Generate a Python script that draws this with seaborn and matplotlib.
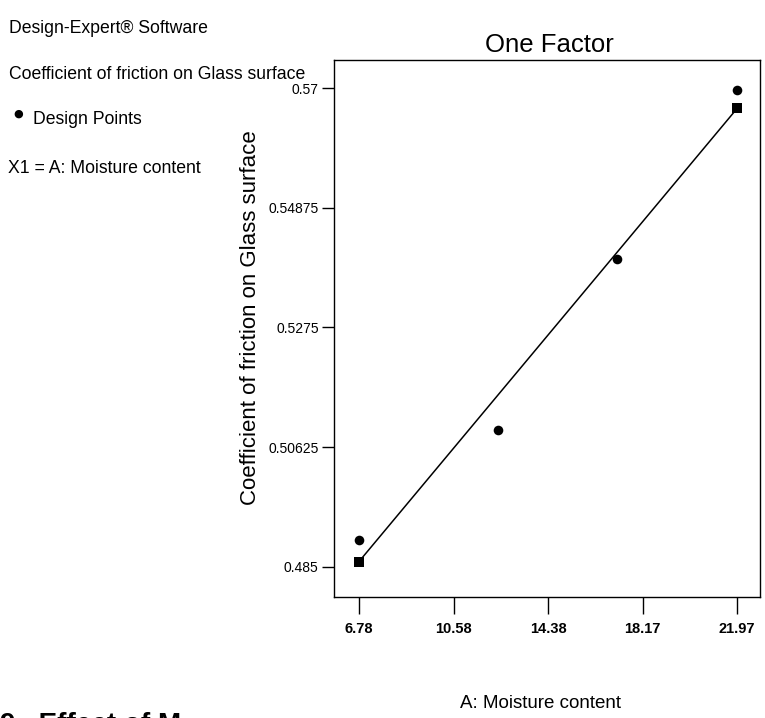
import matplotlib
matplotlib.use("Agg")
import matplotlib.pyplot as plt
import seaborn as sns
import pandas as pd

# ---- data ----
design_x = [6.78, 12.38, 17.14, 21.97]
design_y = [0.4898, 0.5093, 0.5396, 0.5696]
pred_x = [6.78, 21.97]
pred_y = [0.4859, 0.5664]
x_ticks = [6.78, 10.58, 14.38, 18.17, 21.97]
x_tick_labels = ["6.78", "10.58", "14.38", "18.17", "21.97"]
y_ticks = [0.485, 0.50625, 0.5275, 0.54875, 0.57]
y_tick_labels = ["0.485", "0.50625", "0.5275", "0.54875", "0.57"]

sns.set_style("white")
FONT = ["Liberation Sans", "DejaVu Sans"]
plt.rcParams["font.family"] = FONT
plt.rcParams["text.color"] = "black"
plt.rcParams["axes.labelcolor"] = "black"
plt.rcParams["xtick.color"] = "black"
plt.rcParams["ytick.color"] = "black"

fig = plt.figure(figsize=(7.65, 7.18), dpi=100)
ax = fig.add_axes([0.4366, 0.1685, 0.5569, 0.7479])

df_design = pd.DataFrame({"x": design_x, "y": design_y})
df_pred = pd.DataFrame({"x": pred_x, "y": pred_y})

sns.lineplot(data=df_pred, x="x", y="y", ax=ax, color="black", linewidth=1.1)
sns.scatterplot(data=df_pred, x="x", y="y", ax=ax, marker="s", color="black",
                s=48, edgecolor="black", linewidth=0, zorder=5)
sns.scatterplot(data=df_design, x="x", y="y", ax=ax, marker="o", color="black",
                s=48, edgecolor="black", linewidth=0, zorder=5)

ax.set_xlim(5.776, 22.89)
ax.set_ylim(0.4796, 0.575)
ax.set_xticks(x_ticks)
ax.set_xticklabels(x_tick_labels, fontsize=10.5, fontweight="bold")
ax.set_yticks(y_ticks)
ax.set_yticklabels(y_tick_labels, fontsize=10)
ax.tick_params(axis="x", direction="out", length=12, width=1, pad=6, colors="black")
ax.tick_params(axis="y", direction="out", length=9, width=1, pad=2, colors="black")
ax.tick_params(bottom=True, left=True)
for s in ax.spines.values():
    s.set_color("black")
    s.set_linewidth(1.0)
    s.set_visible(True)

ax.set_ylabel("Coefficient of friction on Glass surface", fontsize=16)
ax.yaxis.set_label_coords(-0.172, 0.52)
ax.set_xlabel("A: Moisture content", fontsize=13.5)
ax.xaxis.set_label_coords(0.484, -0.182)

fig.text(0.718, 0.937, "One Factor", fontsize=18.5, ha="center", va="center")

fig.text(0.012, 0.961, "Design-Expert\u00ae Software", fontsize=12.7, ha="left", va="center")
fig.text(0.012, 0.896, "Coefficient of friction on Glass surface", fontsize=12.7, ha="left", va="center")
fig.text(0.018, 0.842, "\u25cf", fontsize=8, ha="left", va="center", family=["DejaVu Sans"])
fig.text(0.043, 0.833, "Design Points", fontsize=12.7, ha="left", va="center")
fig.text(0.010, 0.766, "X1 = A: Moisture content", fontsize=12.7, ha="left", va="center")

fig.text(0.0, 0.008, "9.  Effect of M", fontsize=20, fontweight="bold", ha="left", va="top")

fig.savefig("out.png", dpi=100, facecolor="white")
